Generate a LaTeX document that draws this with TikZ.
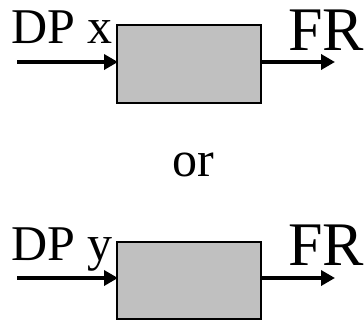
\documentclass[tikz,border=0pt]{standalone}
\usepackage{fontspec}
\setmainfont{Liberation Serif}
\usetikzlibrary{arrows.meta}
\tikzset{
  blk/.style={draw=black, line width=1.5pt, fill=boxgray, inner sep=0pt},
  sig/.style={line width=4.5pt, -{Triangle[length=14pt,width=15pt]}, shorten >=-1pt},
  lbl/.style={anchor=base west, inner sep=0pt, font=\fontsize{50}{50}\selectfont},
  lblbig/.style={anchor=base west, inner sep=0pt, font=\fontsize{62}{62}\selectfont},
}
\definecolor{boxgray}{HTML}{C0C0C0}
\begin{document}
\begin{tikzpicture}[x=1pt,y=-1pt]
\useasboundingbox (0,0) rectangle (364,324);
% top
\path[blk] (117,25) rectangle (261,103);
\coordinate (b1w) at (117,62);
\coordinate (b1e) at (261,62);
\coordinate (in1) at (17,62);
\coordinate (out1) at (334,62);
\draw[sig] (in1) -- (b1w);
\draw[sig] (b1e) -- (out1);
\node[lbl] (dpx) at (11,43) {DP x};
\node[lblbig] (fr1) at (288,50) {FR};
% or
\node[anchor=base, inner sep=0pt, font=\fontsize{50}{50}\selectfont] (or) at (193,176) {or};
% bottom
\path[blk] (117,242) rectangle (261,319);
\coordinate (b2w) at (117,278);
\coordinate (b2e) at (261,278);
\coordinate (in2) at (17,278);
\coordinate (out2) at (334,278);
\draw[sig] (in2) -- (b2w);
\draw[sig] (b2e) -- (out2);
\node[lbl] (dpy) at (11,260) {DP y};
\node[lblbig] (fr2) at (288,265) {FR};
\end{tikzpicture}
\end{document}
